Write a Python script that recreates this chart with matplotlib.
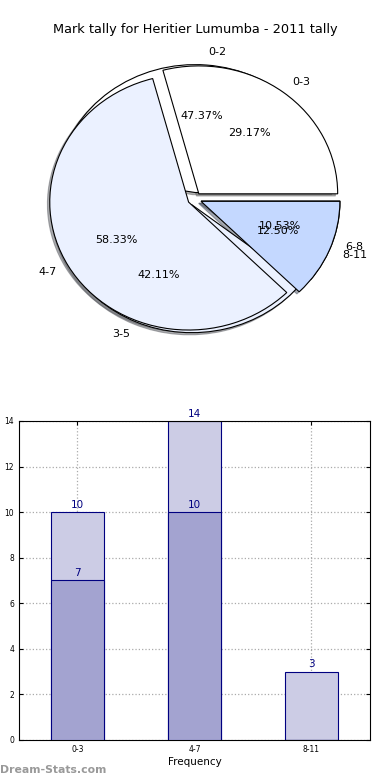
import numpy as np
import matplotlib
matplotlib.use("Agg")
import matplotlib.pyplot as plt

# pie data (two tallies drawn on top of each other)
labels_a = ["0-2", "3-5", "6-8"]
counts_a = [9, 8, 2]
labels_b = ["0-3", "4-7", "8-11"]
counts_b = [7, 14, 3]
pie_colors = ["#FFFFFF", "#EBF1FF", "#C4D8FF"]

# bar data
bar_cats = ["0-3", "4-7", "8-11"]
bar_light = [10, 14, 3]
bar_dark = [7, 10, 0]

fig = plt.figure(figsize=(3.9, 7.8), dpi=100)

fig.text(0.5, 1 - 30 / 780, "Mark tally for Heritier Lumumba - 2011 tally",
         ha="center", va="center", fontsize=9.3)

# pie
ax1 = fig.add_axes([0.054, 0.540, 0.89, 0.41])
for labs, vals in [(labels_a, counts_a), (labels_b, counts_b)]:
    wedges, texts, autotexts = ax1.pie(vals, labels=labs, colors=pie_colors,
                                       explode=(0.05, 0.05, 0.05),
                                       shadow=dict(ox=-0.012, oy=-0.012, shade=0.6),
                                       autopct="%1.2f%%",
                                       wedgeprops=dict(edgecolor="black", linewidth=0.8),
                                       textprops=dict(fontsize=8))
ax1.set_aspect("auto")
ax1.set_xlim(-1.25, 1.25)
ax1.set_ylim(-1.25, 1.25)

# bars
ax2 = fig.add_axes([0.0487, 0.0513, 0.9, 0.409])
x = np.arange(len(bar_cats))
w = 0.45
ax2.bar(x, bar_light, w, color="#CCCCE5", edgecolor="navy", linewidth=0.8, zorder=2)
ax2.bar(x, bar_dark, w, color="#A3A3D0", edgecolor="navy", linewidth=0.8, zorder=3)
for xi, v in zip(x, bar_light):
    if v:
        ax2.text(xi, v + 0.1, str(v), ha="center", va="bottom", color="navy", fontsize=7.5, zorder=4)
for xi, v in zip(x, bar_dark):
    if v:
        ax2.text(xi, v + 0.1, str(v), ha="center", va="bottom", color="navy", fontsize=7.5, zorder=4)

ax2.set_xlim(-0.5, 2.5)
ax2.set_ylim(0, 14)
ax2.set_xticks(x)
ax2.set_xticklabels(bar_cats)
ax2.set_yticks(np.arange(0, 15, 2))
ax2.tick_params(labelsize=5.5, direction="in", top=True, right=True, length=3)
ax2.grid(True, linestyle=":", color="#AAAAAA", linewidth=0.9, zorder=0)
ax2.set_axisbelow(True)
ax2.set_xlabel("Frequency", fontsize=7.5, labelpad=2)
ax2.set_ylabel("Mark Tally", fontsize=7)
ax2.yaxis.set_label_coords(-0.052, 0.5)

fig.text(0.0, 1 - 770 / 780, "Dream-Stats.com", ha="left", va="center",
         fontsize=7.8, color="#999999", fontweight="bold")

fig.savefig("out.png", dpi=100)
